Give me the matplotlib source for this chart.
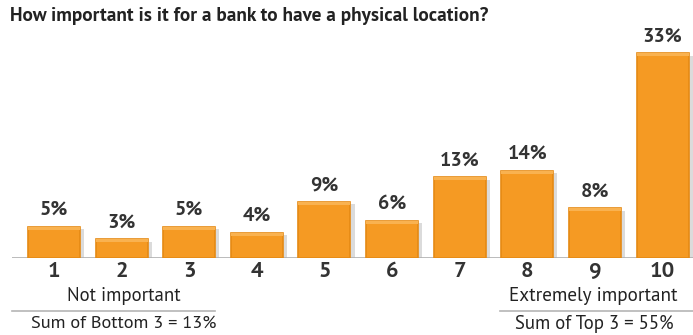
import matplotlib
matplotlib.use("Agg")
import matplotlib.pyplot as plt
from matplotlib.patches import Rectangle

categories = ["1", "2", "3", "4", "5", "6", "7", "8", "9", "10"]
values = [5, 3, 5, 4, 9, 6, 13, 14, 8, 33]
labels = ["5%", "3%", "5%", "4%", "9%", "6%", "13%", "14%", "8%", "33%"]
title = "How important is it for a bank to have a physical location?"
left_note = "Not important"
left_sum = "Sum of Bottom 3 = 13%"
right_note = "Extremely important"
right_sum = "Sum of Top 3 = 55%"

plt.rcParams['font.family'] = ['PT Sans', 'Lato', 'DejaVu Sans']

W, H = 693, 335
fig = plt.figure(figsize=(W / 100, H / 100), dpi=100)
fig.patch.set_facecolor('white')

ax = fig.add_axes([12 / W, (H - 258) / H, 681 / W, 238 / H])
ax.set_xlim(0.38, 10.45)
ax.set_ylim(0, 38.4)
ax.axis('off')

x = list(range(1, len(values) + 1))
bw = 0.77
# shadow
for xi, v in zip(x, values):
    ax.add_patch(Rectangle((xi - bw / 2 + 0.06, 0), bw, v - 0.35,
                           facecolor='#b0b0b0', alpha=0.45, edgecolor='none', zorder=1))
ax.bar(x, values, width=bw, color='#F59A23', edgecolor='#E58A14', linewidth=1.2, zorder=2)
# top highlight
for xi, v in zip(x, values):
    ax.add_patch(Rectangle((xi - bw / 2, v - 0.45), bw, 0.45,
                           facecolor='#F9B250', edgecolor='none', zorder=3))

ax.axhline(0, color='#b5b5b5', lw=1.3, zorder=0, xmin=0, xmax=1)

for xi, v, lab in zip(x, values, labels):
    ax.text(xi, v + 1.3, lab, ha='center', va='bottom', fontsize=14.5,
            fontweight='bold', color='#333333')

for xi, c in zip(x, categories):
    ax.text(xi, -0.7, c, ha='center', va='top', fontsize=16,
            fontweight='bold', color='#333333')

fig.text(10 / W, 1 - 16 / H, title, ha='left', va='center', fontsize=13.9,
         fontweight='bold', color='#222222')

fig.text(123.5 / W, 1 - 296 / H, left_note, ha='center', va='center', fontsize=13.5, color='#222222')
fig.add_artist(plt.Line2D([12 / W, 215 / W], [1 - 311 / H, 1 - 311 / H], color='#b5b5b5', lw=1.2))
fig.text(123.5 / W, 1 - 324 / H, left_sum, ha='center', va='center', fontsize=13.2, color='#222222')

fig.text(593 / W, 1 - 296 / H, right_note, ha='center', va='center', fontsize=13.8, color='#222222')
fig.add_artist(plt.Line2D([500 / W, 693 / W], [1 - 311 / H, 1 - 311 / H], color='#b5b5b5', lw=1.2))
fig.text(594 / W, 1 - 324 / H, right_sum, ha='center', va='center', fontsize=13.5, color='#222222')

fig.savefig('out.png', dpi=100, facecolor='white')
